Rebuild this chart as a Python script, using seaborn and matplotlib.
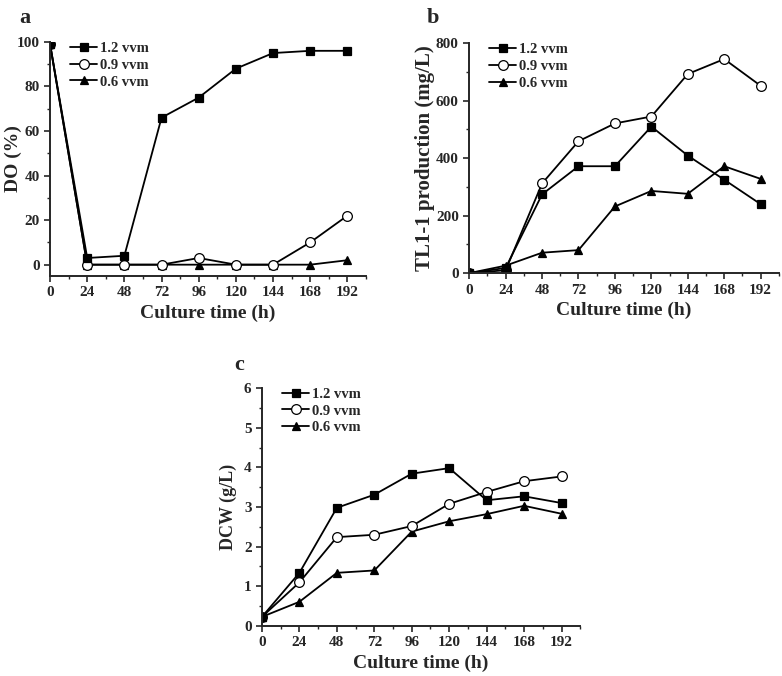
import seaborn as sb
import matplotlib.pyplot as plt
import numpy as np
import pandas as pd
from matplotlib.ticker import MultipleLocator

time_h = [0, 24, 48, 72, 96, 120, 144, 168, 192]
rates = ['1.2 vvm', '0.9 vvm', '0.6 vvm']

# DO (%)
do_12 = [99, 3, 4, 66, 75, 88, 95, 96, 96]
do_09 = [99, 0, 0, 0, 3, 0, 0, 10, 22]
do_06 = [99, 0, 0, 0, 0, 0, 0, 0, 2]

# TL1-1 production (mg/L)
tl_12 = [0, 18, 274, 372, 372, 510, 409, 325, 240]
tl_09 = [0, 10, 312, 459, 521, 545, 693, 745, 652]
tl_06 = [0, 26, 71, 80, 232, 286, 276, 372, 328]

# DCW (g/L)
dcw_12 = [0.23, 1.34, 2.98, 3.31, 3.84, 3.98, 3.17, 3.27, 3.10]
dcw_09 = [0.23, 1.10, 2.24, 2.30, 2.52, 3.08, 3.38, 3.65, 3.77]
dcw_06 = [0.23, 0.61, 1.34, 1.40, 2.38, 2.64, 2.82, 3.03, 2.83]

sb.set_style('ticks')
plt.rcParams['font.family'] = ['Liberation Serif', 'DejaVu Serif']
plt.rcParams['font.weight'] = 'bold'
plt.rcParams['axes.labelweight'] = 'bold'

marks = {'1.2 vvm': ('s', 'black'), '0.9 vvm': ('o', 'white'), '0.6 vvm': ('^', 'black')}


def panel(ax, series, ylab, ylim, ymajor, yminor, letter, lx, ly, labx, labsize):
    # draw 0.6 first so the squares sit on top, legend keeps 1.2 / 0.9 / 0.6
    for name, vals in list(zip(rates, series))[::-1]:
        df = pd.DataFrame({'t': time_h, 'v': vals})
        m, fc = marks[name]
        sb.lineplot(data=df, x='t', y='v', ax=ax, color='black', lw=1.3,
                    marker=m, markersize=6 if m != 'o' else 7,
                    markerfacecolor=fc, markeredgecolor='black',
                    markeredgewidth=0.9, label=name)
    ax.set_xlim(0, 204)
    ax.set_ylim(*ylim)
    ax.set_xticks(time_h)
    ax.xaxis.set_minor_locator(MultipleLocator(12))
    ax.yaxis.set_major_locator(MultipleLocator(ymajor))
    ax.yaxis.set_minor_locator(MultipleLocator(yminor))
    ax.tick_params(which='major', length=4, width=1.2, labelsize=11)
    ax.tick_params(which='minor', length=2.5, width=1.0)
    for s in ['left', 'bottom']:
        ax.spines[s].set_linewidth(1.4)
    sb.despine(ax=ax)
    ax.set_xlabel('Culture time (h)', fontsize=14, labelpad=4)
    ax.set_ylabel(ylab, fontsize=labsize)
    ax.yaxis.set_label_coords(labx, 0.5)
    h, l = ax.get_legend_handles_labels()
    leg = ax.legend(h[::-1], l[::-1], loc='upper left', frameon=False, fontsize=10.5,
                    handlelength=1.9, borderaxespad=0.3, labelspacing=0.25,
                    handletextpad=0.2, bbox_to_anchor=(0.03, 1.045))
    for t in leg.get_texts():
        t.set_fontweight('bold')
    ax.figure.text(lx, ly, letter, fontsize=16, fontweight='bold')


fig = plt.figure(figsize=(7.82, 6.76), dpi=100)
ax_a = fig.add_axes([0.064, 0.592, 0.404, 0.346])
ax_b = fig.add_axes([0.600, 0.596, 0.396, 0.340])
ax_c = fig.add_axes([0.335, 0.074, 0.407, 0.352])

panel(ax_a, [do_12, do_09, do_06], 'DO (%)', (-5, 100), 20, 10, 'a', 0.024, 0.966, -0.089, 14)
panel(ax_b, [tl_12, tl_09, tl_06], 'TL1-1 production (mg/L)', (0, 800), 200, 100, 'b', 0.545, 0.966, -0.11, 15)
panel(ax_c, [dcw_12, dcw_09, dcw_06], 'DCW (g/L)', (0, 6), 1, 0.5, 'c', 0.300, 0.453, -0.079, 13)

plt.savefig('out.png', dpi=100)
